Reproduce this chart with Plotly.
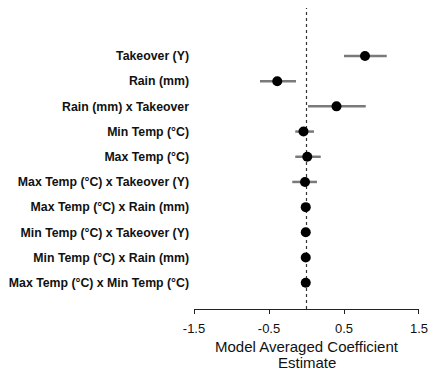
import plotly.graph_objects as go

labels = ["Takeover (Y)", "Rain (mm)", "Rain (mm) x Takeover", "Min Temp (°C)", "Max Temp (°C)",
          "Max Temp (°C) x Takeover (Y)", "Max Temp (°C) x Rain (mm)", "Min Temp (°C) x Takeover (Y)",
          "Min Temp (°C) x Rain (mm)", "Max Temp (°C) x Min Temp (°C)"]
estimate = [0.78, -0.39, 0.40, -0.04, 0.01, -0.02, -0.01, -0.01, -0.01, -0.01]
lower = [0.50, -0.62, 0.02, -0.15, -0.15, -0.19, -0.01, -0.01, -0.01, -0.01]
upper = [1.07, -0.14, 0.79, 0.10, 0.19, 0.14, -0.01, -0.01, -0.01, -0.01]
xticks = [-1.5, -0.5, 0.5, 1.5]
title_lines = ["Model Averaged Coefficient", "Estimate"]

idx = list(range(len(labels)))
err_plus = [u - e for u, e in zip(upper, estimate)]
err_minus = [e - l for e, l in zip(estimate, lower)]

fig = go.Figure()
fig.add_trace(go.Scatter(
    x=estimate, y=idx, mode="markers",
    marker=dict(color="black", size=10),
    error_x=dict(type="data", symmetric=False, array=err_plus, arrayminus=err_minus,
                 color="#7a7a7a", thickness=2.5, width=0),
    showlegend=False, cliponaxis=False,
))
fig.add_shape(type="line", xref="x", yref="paper", x0=0, x1=0, y0=0, y1=1,
              line=dict(color="#333333", width=1.2, dash="3px,3px"), layer="below")

for i, t in enumerate(title_lines):
    fig.add_annotation(text=t, xref="x", yref="paper", x=0, y=0, yanchor="middle",
                       xanchor="center", yshift=-37 - 16 * i, showarrow=False,
                       font=dict(size=15, color="#111111"))

fig.update_layout(
    width=428, height=370,
    margin=dict(l=194, r=9, t=8, b=61),
    paper_bgcolor="white", plot_bgcolor="white",
    font=dict(family="Liberation Sans, Arial, sans-serif", color="#111111"),
    xaxis=dict(range=[-1.5001, 1.5001], tickvals=xticks, ticktext=[str(t) for t in xticks],
               showline=True, linecolor="#222", linewidth=1, ticks="outside", ticklen=4,
               tickcolor="#222", showgrid=False, zeroline=False, ticklabelstandoff=3,
               ticklabeloverflow="allow", automargin=False,
               tickfont=dict(size=13)),
    yaxis=dict(range=[10.044, -1.905], tickvals=idx, ticktext=labels, showgrid=False,
               zeroline=False, showline=False, ticks="", ticklabelstandoff=4, automargin=False,
               tickfont=dict(size=12.3, family="Liberation Sans, Arial, sans-serif", weight="bold")),
)
fig.write_html("out.html")
